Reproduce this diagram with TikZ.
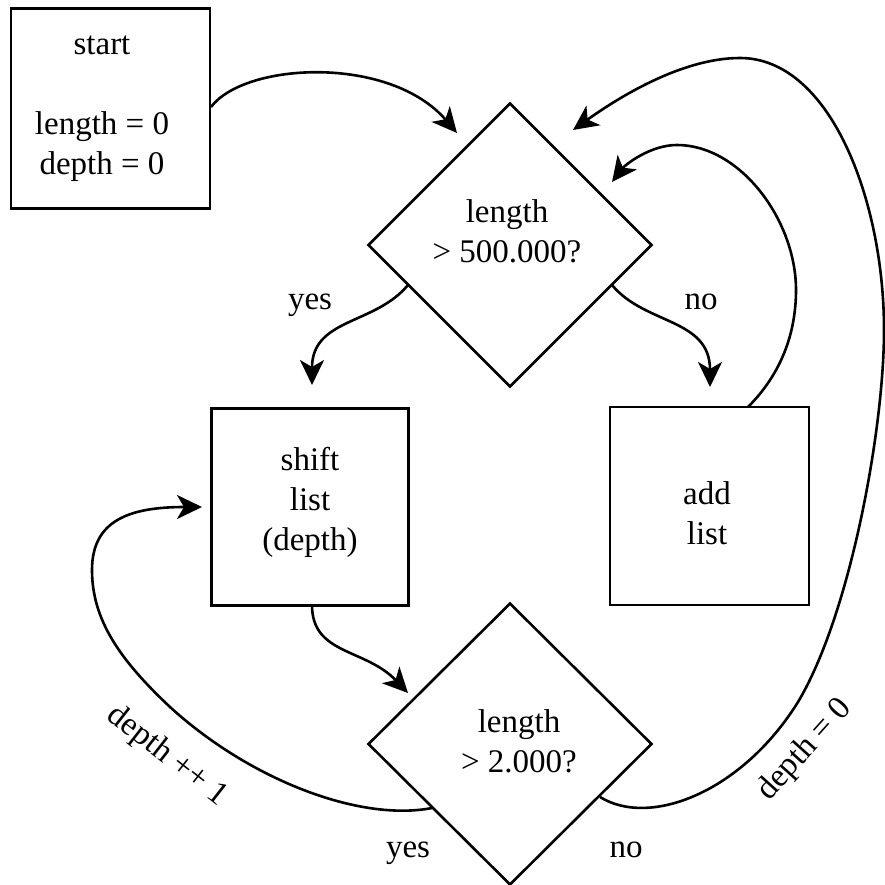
\documentclass[tikz,border=0pt]{standalone}
\usepackage{fontspec}
\setmainfont{Liberation Serif}
\usetikzlibrary{arrows.meta,shapes.geometric}

\begin{document}
\begin{tikzpicture}[x=1pt,y=-1pt,
  every node/.style={font=\fontsize{33}{40}\selectfont},
  box/.style={draw, line width=2.6pt, rectangle, inner sep=0pt},
  decision/.style={draw, line width=2.6pt, diamond, inner sep=0pt},
  txt/.style={align=center, inner sep=0pt},
  link/.style={line width=2.6pt, -{Stealth[length=25pt,width=24pt,inset=7pt]}}
]
\useasboundingbox (0,0) rectangle (885,885);

% boxes and decisions
\node[box, minimum width=199pt, minimum height=200pt] (start) at (110.5,108.5) {};
\node[txt] (starttxt) at (102,109) {start\\[40pt]length = 0\\depth = 0};

\node[decision, minimum width=284pt, minimum height=284pt] (big) at (510,245) {};
\node[txt] (bigtxt) at (507,231) {length\\> 500.000?};

\node[box, minimum width=197pt, minimum height=197pt] (shift) at (310,507) {};
\node[txt] (shifttxt) at (310,502.5) {shift\\list\\(depth)};

\node[box, minimum width=199pt, minimum height=198pt] (add) at (709.5,506) {};
\node[txt] (addtxt) at (707,513) {add\\list};

\node[decision, minimum width=284pt, minimum height=282pt] (small) at (510,744) {};
\node[txt] (smalltxt) at (519,741.5) {length\\> 2.000?};

% branch labels
\node[txt, anchor=base] (yes1) at (310,309) {yes};
\node[txt, anchor=base] (no1) at (701,309) {no};
\node[txt, anchor=base] (yes2) at (408,857) {yes};
\node[txt, anchor=base] (no2) at (626,857) {no};
\node[txt, rotate=-38] (inc) at (167,756) {depth ++ 1};
\node[txt, rotate=48] (reset) at (805,750) {depth = 0};

% anchor points on the shapes
\coordinate (s1) at (211,107);
\coordinate (t1) at (457,133);
\coordinate (b1) at (408,285);
\coordinate (b2) at (612,285);
\coordinate (t2) at (312,385);
\coordinate (t3) at (710,387);
\coordinate (a1) at (748,407);
\coordinate (t4) at (612,182);
\coordinate (s2) at (312,605);
\coordinate (t5) at (408,693);
\coordinate (c1) at (432,808);
\coordinate (t6) at (202,507);
\coordinate (c2) at (600,797);
\coordinate (t7) at (573,130);

% connectors
\draw[link] (s1) .. controls (245,62) and (390,55) .. (t1);
\draw[link] (b1) .. controls (375,325) and (312,318) .. (t2);
\draw[link] (b2) .. controls (645,325) and (710,318) .. (t3);
\draw[link] (a1) .. controls (780,375) and (796,335) .. (796,290)
  .. controls (796,220) and (740,145) .. (677,145)
  .. controls (650,145) and (625,165) .. (t4);
\draw[link] (s2) .. controls (312,655) and (365,648) .. (t5);
\draw[link] (c1) .. controls (360,822) and (250,780) .. (170,707)
  .. controls (120,660) and (92,620) .. (92,570)
  .. controls (92,520) and (130,507) .. (t6);
\draw[link] (c2) .. controls (650,828) and (742,792) .. (798,702)
  .. controls (850,615) and (884,430) .. (884,330)
  .. controls (884,200) and (830,58) .. (740,58)
  .. controls (680,58) and (615,100) .. (t7);
\end{tikzpicture}
\end{document}
